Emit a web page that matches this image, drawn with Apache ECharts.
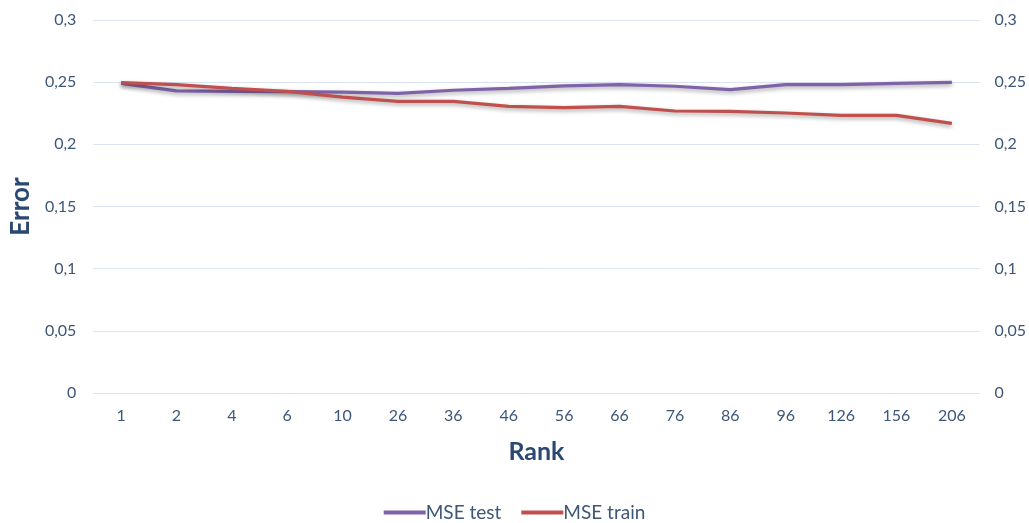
<!DOCTYPE html>
<html>
<head>
<meta charset="utf-8">
<script src="https://cdn.jsdelivr.net/npm/echarts@6/dist/echarts.min.js"></script>
<style>
  html, body { margin: 0; padding: 0; background: #ffffff; }
  #chart { width: 1029px; height: 523px; }
</style>
</head>
<body>
<div id="chart"></div>
<script>
// Rank values on the category axis
const ranks = ['1', '2', '4', '6', '10', '26', '36', '46', '56', '66', '76', '86', '96', '126', '156', '206'];
// Mean squared error on the test set
const mseTest = [0.249, 0.243, 0.2426, 0.2424, 0.242, 0.241, 0.2435, 0.245, 0.247, 0.248, 0.2467, 0.244, 0.248, 0.248, 0.249, 0.2499];
// Mean squared error on the training set
const mseTrain = [0.2496, 0.248, 0.245, 0.2426, 0.238, 0.2346, 0.2346, 0.2306, 0.2295, 0.2306, 0.2268, 0.2265, 0.2252, 0.2233, 0.2233, 0.2169];

const FONT = 'Lato, "Open Sans", sans-serif';
const LABEL_COLOR = '#3E5677';
const NAME_COLOR = '#2B4872';
const GRID_COLOR = '#D9E3F2';

const fmt = v => String(Math.round(v * 100) / 100).replace('.', ',');

const lineSeries = (name, data, color) => ({
  name: name,
  type: 'line',
  data: data,
  symbol: 'none',
  lineStyle: {
    color: color,
    width: 3.2,
    shadowColor: 'rgba(0,0,0,0.35)',
    shadowBlur: 4,
    shadowOffsetY: 2
  },
  itemStyle: { color: color }
});

const chart = echarts.init(document.getElementById('chart'), null, { renderer: 'canvas' });
chart.setOption({
  animation: false,
  backgroundColor: '#ffffff',
  grid: { left: 92, right: 49, top: 20, bottom: 130 },
  legend: {
    top: 498,
    left: 'center',
    itemWidth: 42,
    itemHeight: 4,
    itemGap: 20,
    icon: 'rect',
    textStyle: { fontFamily: FONT, fontSize: 19, color: LABEL_COLOR, padding: [0, 0, 0, -5] },
    data: ['MSE test', 'MSE train']
  },
  xAxis: {
    type: 'category',
    data: ranks,
    boundaryGap: true,
    name: 'Rank',
    nameLocation: 'middle',
    nameGap: 46,
    nameTextStyle: { fontFamily: FONT, fontSize: 25, fontWeight: 'bold', color: NAME_COLOR },
    axisLine: { show: false },
    axisTick: { show: false },
    axisLabel: { fontFamily: FONT, fontSize: 16, color: LABEL_COLOR, margin: 15 }
  },
  yAxis: [
    {
      type: 'value',
      min: 0,
      max: 0.3,
      interval: 0.05,
      name: 'Error',
      nameLocation: 'middle',
      nameGap: 57,
      nameTextStyle: { fontFamily: FONT, fontSize: 26, fontWeight: 'bold', color: NAME_COLOR },
      axisLine: { show: false },
      axisTick: { show: false },
      splitLine: { lineStyle: { color: GRID_COLOR, width: 1 } },
      axisLabel: { fontFamily: FONT, fontSize: 16, color: LABEL_COLOR, margin: 17, formatter: fmt }
    },
    {
      type: 'value',
      position: 'right',
      min: 0,
      max: 0.3,
      interval: 0.05,
      axisLine: { show: false },
      axisTick: { show: false },
      splitLine: { show: false },
      axisLabel: { fontFamily: FONT, fontSize: 16, color: LABEL_COLOR, margin: 15, formatter: fmt }
    }
  ],
  series: [
    lineSeries('MSE test', mseTest, '#7F63A9'),
    lineSeries('MSE train', mseTrain, '#C0504D')
  ]
});
</script>
</body>
</html>
